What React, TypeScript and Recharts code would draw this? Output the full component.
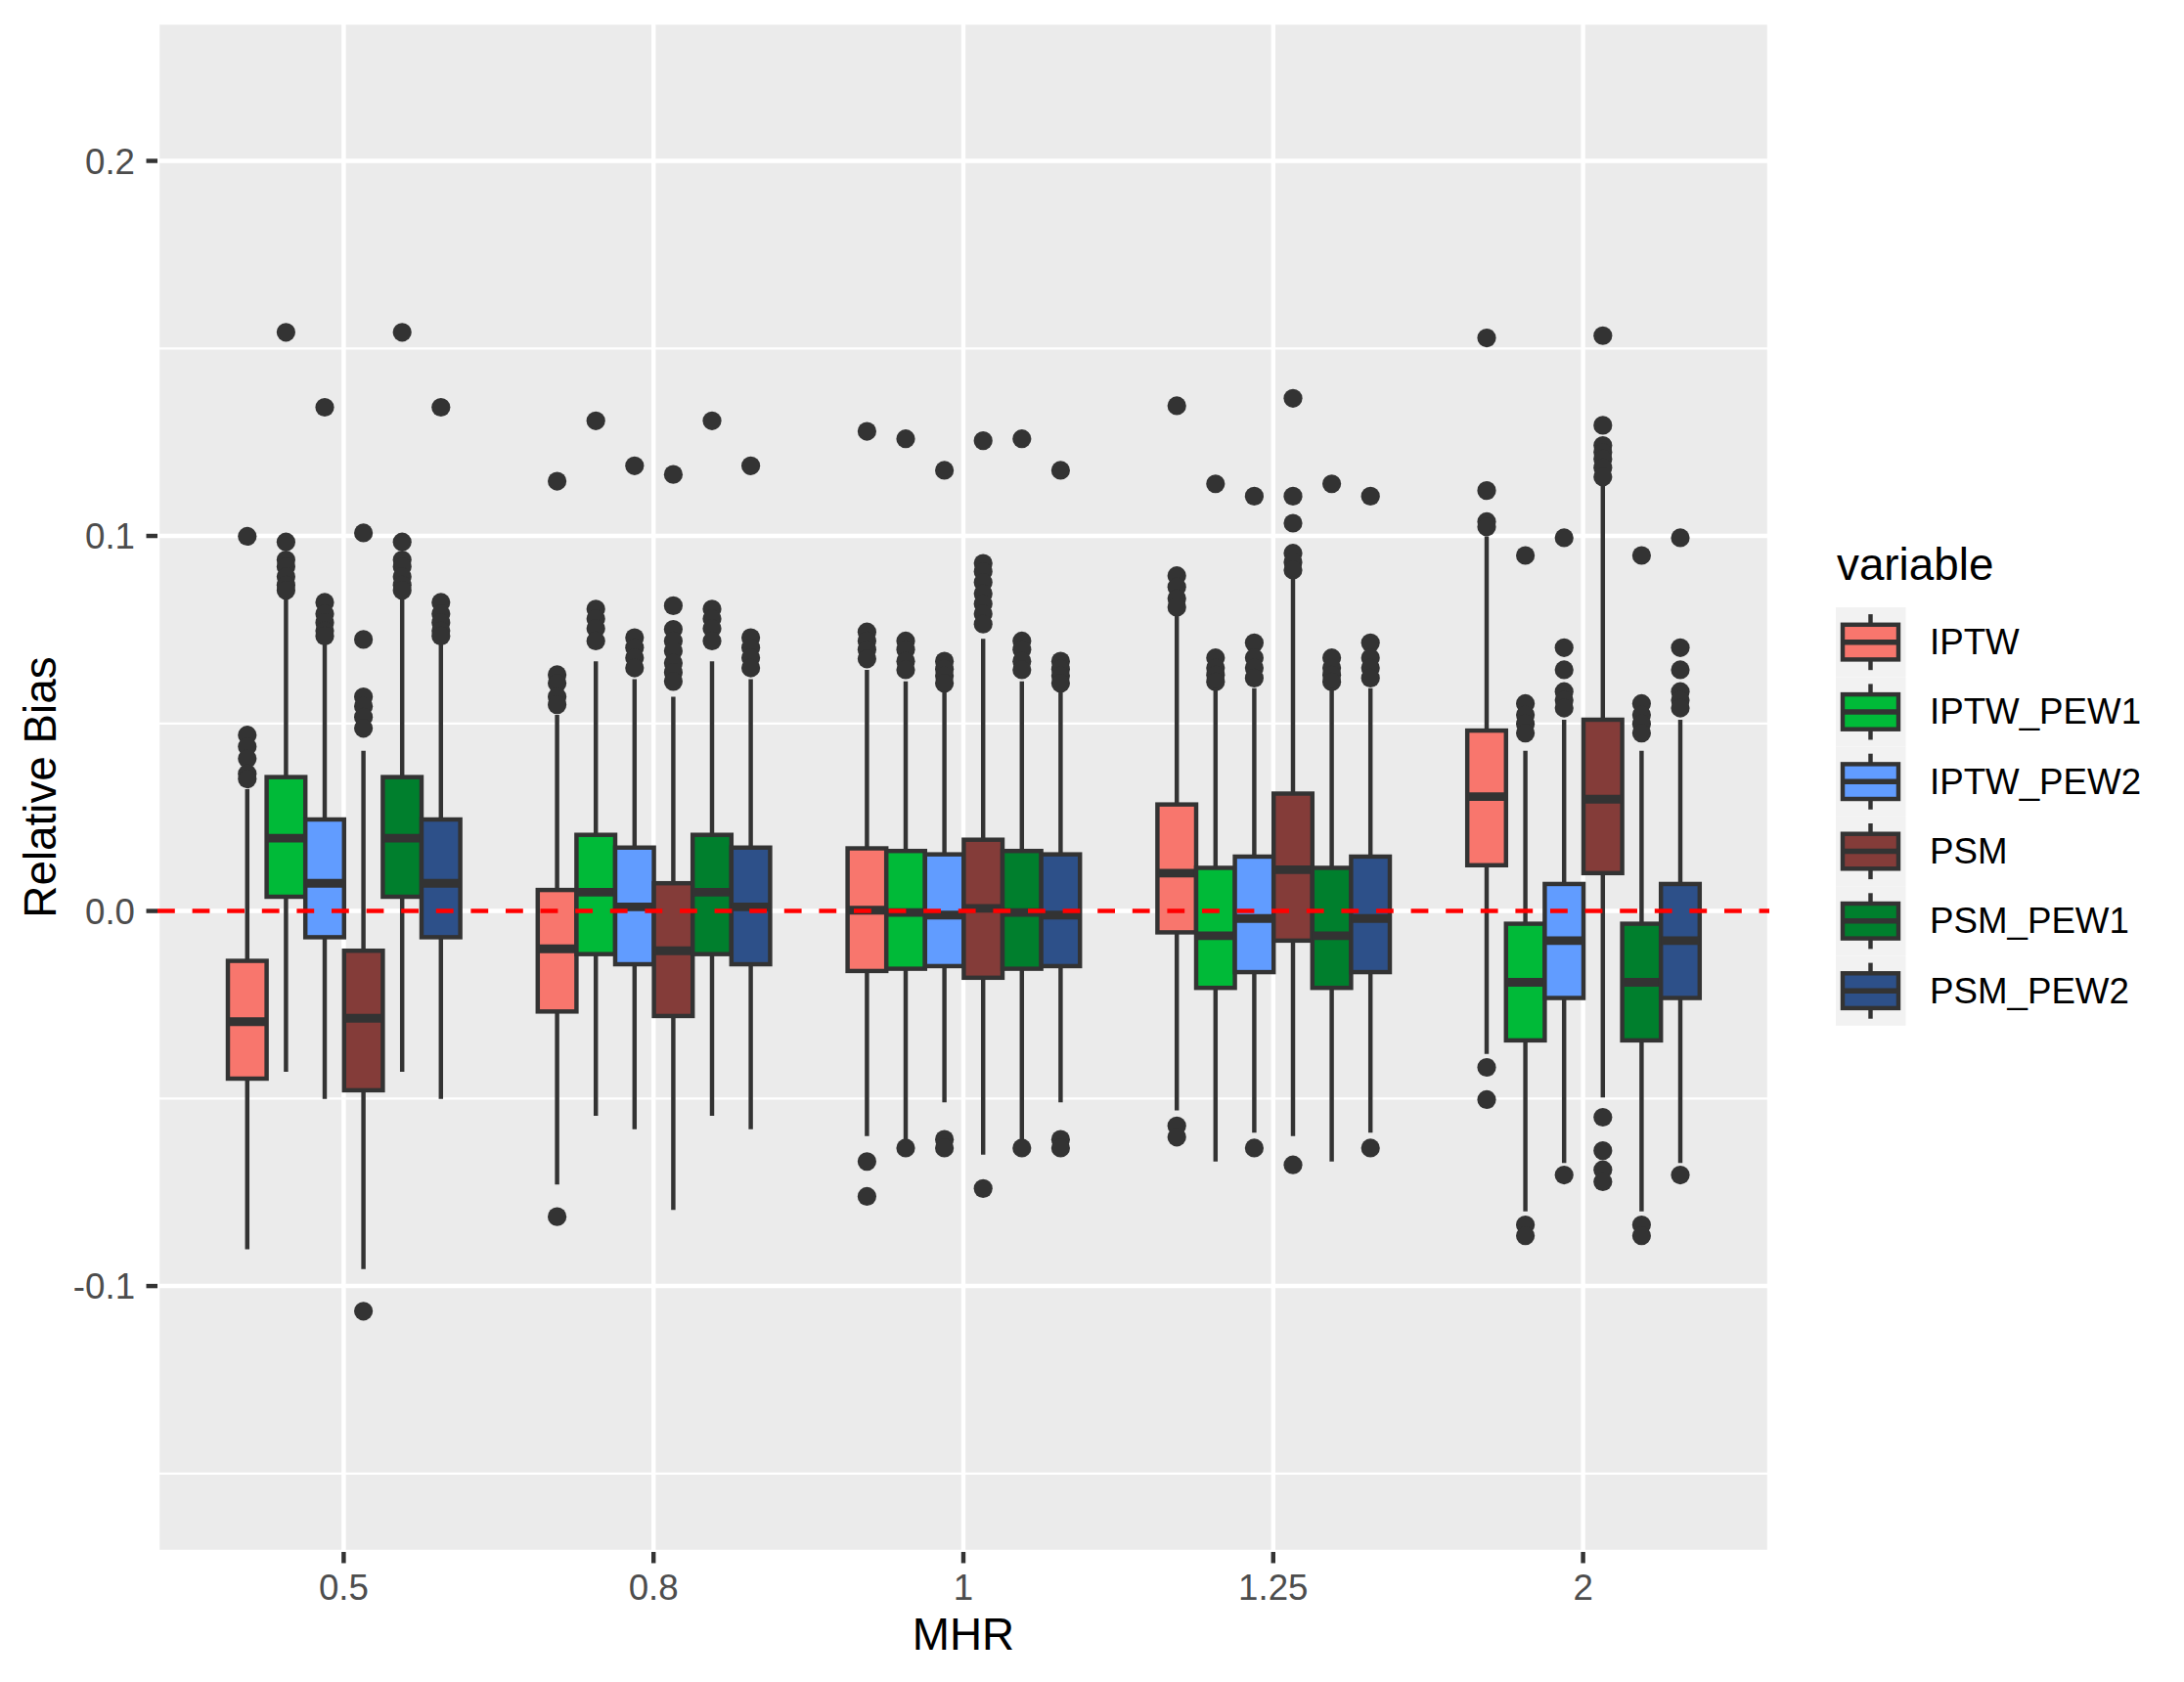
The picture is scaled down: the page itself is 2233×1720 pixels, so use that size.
import { ComposedChart, Bar, XAxis, YAxis, CartesianGrid, ReferenceLine, Legend } from 'recharts';

const FONT = '"Liberation Sans", Arial, Helvetica, sans-serif';
const INK = '#333333';

const MHR = ['0.5', '0.8', '1', '1.25', '2'];
const SERIES = ['IPTW', 'IPTW_PEW1', 'IPTW_PEW2', 'PSM', 'PSM_PEW1', 'PSM_PEW2'];
const COLORS = ['#F8766D', '#00BA38', '#619CFF', '#843C39', '#007F2D', '#2D5089'];
const Y_MAJOR = [-0.1, 0, 0.1, 0.2];
const Y_MINOR = [-0.15, -0.05, 0.05, 0.15];

// per MHR: [lower whisker, Q1, median, Q3, upper whisker]
const IPTW_BOX = [
  [-0.0902, -0.0447, -0.0295, -0.0133, 0.0325],
  [-0.0729, -0.0268, -0.0101, 0.0056, 0.0523],
  [-0.06, -0.016, 0.0002, 0.0167, 0.0643],
  [-0.0532, -0.0057, 0.0101, 0.0284, 0.0787],
  [-0.0381, 0.0122, 0.0305, 0.0481, 0.0999],
];
const IPTW_OUT = [
  [0.0999, 0.0469, 0.0438, 0.0406, 0.0366, 0.0352],
  [0.1146, 0.063, 0.0607, 0.0571, 0.055, -0.0815],
  [0.1279, 0.0744, 0.072, 0.0697, 0.0672, -0.0668, -0.0761],
  [0.1347, 0.0894, 0.0864, 0.0833, 0.081, -0.0573, -0.0603],
  [0.1528, 0.1121, 0.1038, 0.1024, -0.0417, -0.0503],
];

const IPTW_PEW1_BOX = [
  [-0.0429, 0.0038, 0.0194, 0.0357, 0.0833],
  [-0.0546, -0.0115, 0.005, 0.0203, 0.0666],
  [-0.0614, -0.0154, -0.0004, 0.016, 0.0612],
  [-0.0668, -0.0205, -0.0066, 0.0115, 0.0594],
  [-0.0801, -0.0345, -0.019, -0.0034, 0.0427],
];
const IPTW_PEW1_OUT = [
  [0.1543, 0.0984, 0.0936, 0.0918, 0.0891, 0.0869, 0.0855],
  [0.1307, 0.0805, 0.0779, 0.0753, 0.072],
  [0.1259, 0.072, 0.0697, 0.0666, 0.0643, -0.0632],
  [0.1139, 0.0675, 0.0648, 0.0629, 0.0611],
  [0.0948, 0.0553, 0.0523, 0.0499, 0.0474, -0.0837, -0.0866],
];

const IPTW_PEW2_BOX = [
  [-0.0501, -0.007, 0.0074, 0.0244, 0.0711],
  [-0.0582, -0.0142, 0.0011, 0.0169, 0.0618],
  [-0.051, -0.0147, -0.0011, 0.0151, 0.0585],
  [-0.0591, -0.0163, -0.002, 0.0145, 0.0594],
  [-0.0672, -0.0232, -0.0079, 0.0072, 0.051],
];
const IPTW_PEW2_OUT = [
  [0.1343, 0.0823, 0.0792, 0.0769, 0.0747, 0.0733],
  [0.1187, 0.0729, 0.0702, 0.0675, 0.0648],
  [0.1175, 0.0666, 0.0645, 0.0627, 0.0607, -0.0609, -0.0632],
  [0.1106, 0.0715, 0.0675, 0.0648, 0.0621, -0.0632],
  [0.0995, 0.0702, 0.0643, 0.0585, 0.0562, 0.0541, -0.0704],
];

const PSM_BOX = [
  [-0.0955, -0.0478, -0.0286, -0.0106, 0.0427],
  [-0.0797, -0.028, -0.0106, 0.0074, 0.0571],
  [-0.065, -0.0178, 0.0007, 0.019, 0.0726],
  [-0.06, -0.0079, 0.011, 0.0313, 0.0891],
  [-0.0497, 0.0101, 0.0298, 0.051, 0.1133],
];
const PSM_OUT = [
  [0.1008, 0.0724, 0.0571, 0.0546, 0.0517, 0.0487, -0.1067],
  [0.1164, 0.0814, 0.0751, 0.072, 0.0693, 0.0661, 0.0636, 0.0612],
  [0.1254, 0.0927, 0.0905, 0.0876, 0.0846, 0.0819, 0.0792, 0.0765, -0.074],
  [0.1367, 0.1106, 0.1034, 0.0954, 0.093, 0.0909, -0.0677],
  [0.1534, 0.1295, 0.1241, 0.1223, 0.1205, 0.1182, 0.1157, -0.055, -0.0639, -0.069, -0.0722],
];

const PSM_PEW1_BOX = [
  [-0.0429, 0.0038, 0.0194, 0.0357, 0.0833],
  [-0.0546, -0.0115, 0.005, 0.0203, 0.0666],
  [-0.0614, -0.0154, -0.0004, 0.016, 0.0612],
  [-0.0668, -0.0205, -0.0066, 0.0115, 0.0594],
  [-0.0801, -0.0345, -0.019, -0.0034, 0.0427],
];
const PSM_PEW1_OUT = [
  [0.1543, 0.0984, 0.0936, 0.0918, 0.0891, 0.0869, 0.0855],
  [0.1307, 0.0805, 0.0779, 0.0753, 0.072],
  [0.1259, 0.072, 0.0697, 0.0666, 0.0643, -0.0632],
  [0.1139, 0.0675, 0.0648, 0.0629, 0.0611],
  [0.0948, 0.0553, 0.0523, 0.0499, 0.0474, -0.0837, -0.0866],
];

const PSM_PEW2_BOX = [
  [-0.0501, -0.007, 0.0074, 0.0244, 0.0711],
  [-0.0582, -0.0142, 0.0011, 0.0169, 0.0618],
  [-0.051, -0.0147, -0.0011, 0.0151, 0.0585],
  [-0.0591, -0.0163, -0.002, 0.0145, 0.0594],
  [-0.0672, -0.0232, -0.0079, 0.0072, 0.051],
];
const PSM_PEW2_OUT = [
  [0.1343, 0.0823, 0.0792, 0.0769, 0.0747, 0.0733],
  [0.1187, 0.0729, 0.0702, 0.0675, 0.0648],
  [0.1175, 0.0666, 0.0645, 0.0627, 0.0607, -0.0609, -0.0632],
  [0.1106, 0.0715, 0.0675, 0.0648, 0.0621, -0.0632],
  [0.0995, 0.0702, 0.0643, 0.0585, 0.0562, 0.0541, -0.0704],
];

const BOXES = [IPTW_BOX, IPTW_PEW1_BOX, IPTW_PEW2_BOX, PSM_BOX, PSM_PEW1_BOX, PSM_PEW2_BOX];
const OUTLIERS = [IPTW_OUT, IPTW_PEW1_OUT, IPTW_PEW2_OUT, PSM_OUT, PSM_PEW1_OUT, PSM_PEW2_OUT];

// one row per MHR; each series gets a [Q1, Q3] range for the bar plus its stats
const data = MHR.map((mhr, i) => {
  const row: any = { mhr };
  SERIES.forEach((name, k) => {
    const box = BOXES[k][i];
    row[name] = [box[1], box[3]];
    row[name + '_stats'] = { box, out: OUTLIERS[k][i] };
  });
  return row;
});

// bar rect = Q1..Q3, other values mapped linearly off the same scale
function boxShape(name: string, color: string) {
  return (props: any) => {
    const { x, y, width, height, payload } = props;
    const { box, out } = payload[name + '_stats'];
    const [lo, q1, med, q3, hi] = box;
    const top = Math.min(y, y + height);
    const bottom = Math.max(y, y + height);
    const toPx = (v: number) => bottom + ((v - q1) / (q3 - q1)) * (top - bottom);
    const cx = x + width / 2;
    return (
      <g>
        {out.map((v: number, i: number) => (
          <circle key={i} cx={cx} cy={toPx(v)} r={9.6} fill={INK} />
        ))}
        <line x1={cx} x2={cx} y1={toPx(hi)} y2={top} stroke={INK} strokeWidth={4.45} />
        <line x1={cx} x2={cx} y1={bottom} y2={toPx(lo)} stroke={INK} strokeWidth={4.45} />
        <rect x={x} y={top} width={width} height={bottom - top} fill={color} stroke={INK} strokeWidth={4.45} />
        <line x1={x} x2={x + width} y1={toPx(med)} y2={toPx(med)} stroke={INK} strokeWidth={8.9} />
      </g>
    );
  };
}

function LegendBox() {
  const rowH = 71.3;
  return (
    <svg width={403} height={530} style={{ display: 'block', fontFamily: FONT }}>
      <text x={48} y={53} fontSize={45.8} fill="#000">variable</text>
      {SERIES.map((name, i) => {
        const t = 81 + i * rowH;
        return (
          <g key={name}>
            <rect x={47} y={t} width={71.5} height={rowH} fill="#F2F2F2" />
            <line x1={82.5} x2={82.5} y1={t + 7.1} y2={t + 64.2} stroke={INK} strokeWidth={4.45} />
            <rect x={54} y={t + 17.8} width={57} height={35.6} fill={COLORS[i]} stroke={INK} strokeWidth={4.45} />
            <line x1={54} x2={111} y1={t + 35.65} y2={t + 35.65} stroke={INK} strokeWidth={5.5} />
            <text x={143} y={t + 48} fontSize={36.7} fill="#000">{name}</text>
          </g>
        );
      })}
    </svg>
  );
}

const XTitle = (props: any) => {
  const vb = props.viewBox;
  return (
    <text x={vb.x + vb.width / 2} y={1687} textAnchor="middle" fontSize={45.8} fill="#000" fontFamily={FONT}>
      MHR
    </text>
  );
};

const YTitle = (props: any) => {
  const vb = props.viewBox;
  const cy = vb.y + vb.height / 2;
  return (
    <text
      x={57}
      y={cy}
      transform={`rotate(-90, 57, ${cy})`}
      textAnchor="middle"
      fontSize={45.8}
      fill="#000"
      fontFamily={FONT}
    >
      Relative Bias
    </text>
  );
};

export default function App() {
  const tick = { fill: '#4D4D4D', fontSize: 36.7, fontFamily: FONT };
  const tickLine = { stroke: INK, strokeWidth: 4.45 };
  return (
    <div style={{ position: 'absolute', left: 0, top: 0, width: 2233, height: 1720, background: '#fff' }}>
      <ComposedChart
        width={2233}
        height={1720}
        data={data}
        margin={{ top: 23, right: 424, bottom: 0, left: 0 }}
        barGap={0}
        barSize={39.6}
      >
        <CartesianGrid fill="#EBEBEB" fillOpacity={1} stroke="#FFFFFF" strokeWidth={4.45} />
        <CartesianGrid yAxisId="minor" vertical={false} stroke="#FFFFFF" strokeWidth={2.2} />
        <XAxis
          dataKey="mhr"
          height={133}
          padding={{ left: 32, right: 32 }}
          axisLine={false}
          tickLine={tickLine}
          tickSize={11.46}
          tickMargin={11.5}
          tick={tick}
          interval={0}
          label={{ content: XTitle }}
        />
        <YAxis
          type="number"
          width={161}
          domain={[-0.1709, 0.2369]}
          allowDataOverflow
          ticks={Y_MAJOR}
          tickFormatter={(v: number) => v.toFixed(1)}
          axisLine={false}
          tickLine={tickLine}
          tickSize={11.46}
          tickMargin={11.5}
          tick={tick}
          label={{ content: YTitle }}
        />
        <YAxis yAxisId="minor" type="number" hide domain={[-0.1709, 0.2369]} allowDataOverflow ticks={Y_MINOR} />
        {SERIES.map((name, k) => (
          <Bar
            key={name}
            dataKey={name}
            name={name}
            fill={COLORS[k]}
            shape={boxShape(name, COLORS[k])}
            isAnimationActive={false}
          />
        ))}
        <ReferenceLine
          y={0}
          stroke="#FF0000"
          strokeWidth={4.45}
          strokeDasharray="17.8 17.8"
          zIndex={2000}
        />
        <Legend
          layout="vertical"
          align="center"
          verticalAlign="middle"
          wrapperStyle={{ position: 'absolute', left: 1830, top: 540, width: 403, height: 530 }}
          content={() => <LegendBox />}
        />
      </ComposedChart>
    </div>
  );
}
